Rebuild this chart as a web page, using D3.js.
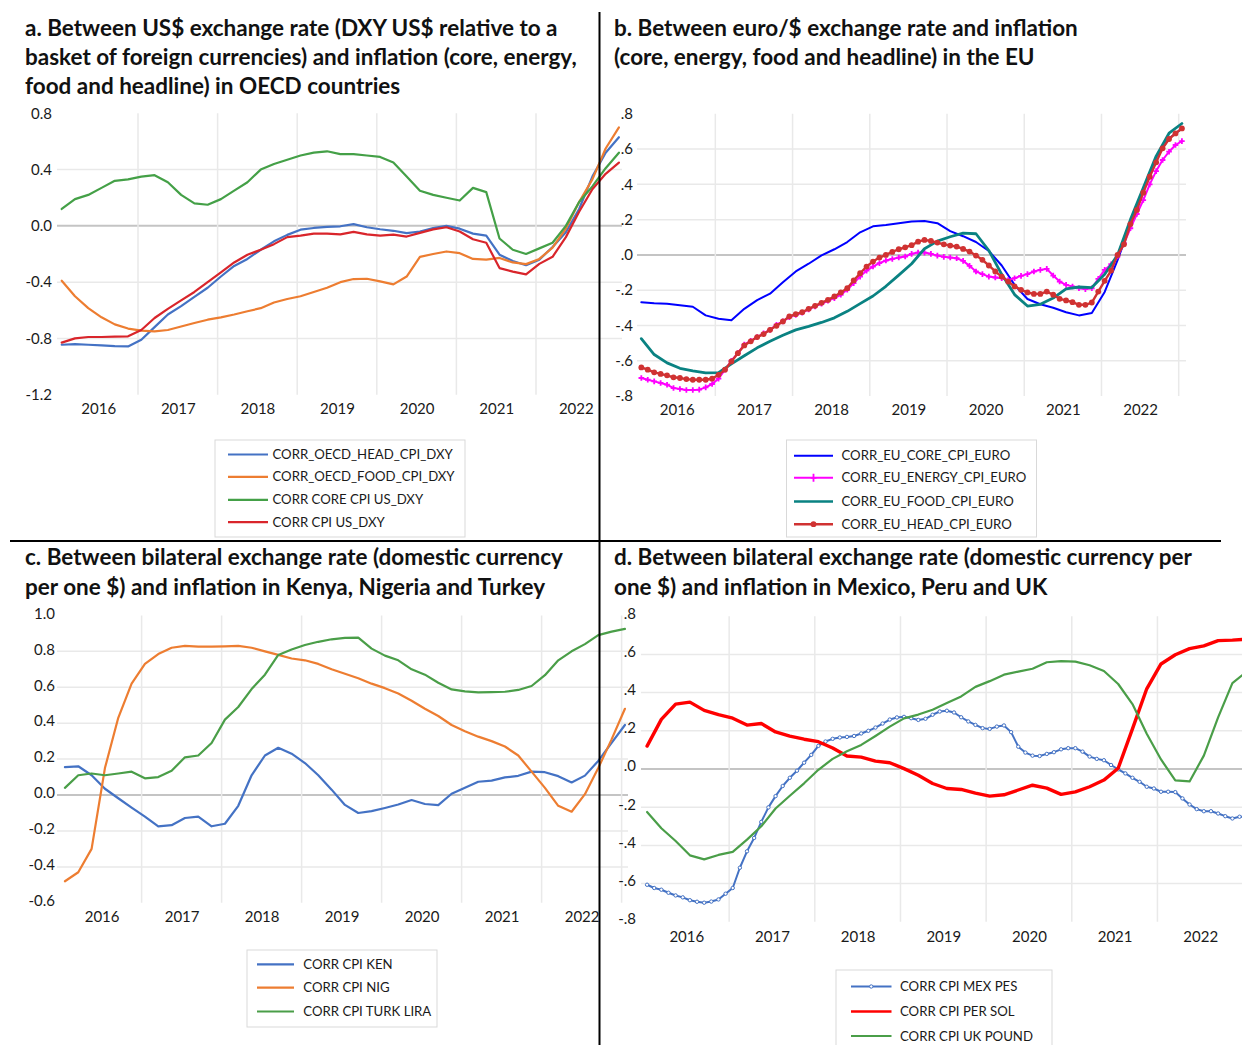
<!DOCTYPE html>
<html><head><meta charset="utf-8">
<script src="https://cdn.jsdelivr.net/npm/d3@7"></script>
<style>
body{margin:0;background:#fff;}
svg{display:block;font-family:Lato,"Open Sans",sans-serif;}
</style>
</head><body>
<svg id="chart" width="1242" height="1045"></svg>
<script>
// ---------------- DATA ----------------
const years = ["2016","2017","2018","2019","2020","2021","2022"];

// month index 0 = Jan 2016 ... 84 = Jan 2023
const monthsBi = d3.range(0, 85, 2);   // every second month
const monthsAll = d3.range(0, 85);     // every month

// Panel a
const aTitle = ["a. Between US$ exchange rate (DXY US$ relative to a",
  "basket of foreign currencies) and inflation (core, energy,",
  "food and headline) in OECD countries"];
const aTicks = [0.8, 0.4, 0.0, -0.4, -0.8, -1.2];
const aTickLabels = ["0.8","0.4","0.0","-0.4","-0.8","-1.2"];
const aNames = ["CORR_OECD_HEAD_CPI_DXY","CORR_OECD_FOOD_CPI_DXY","CORR CORE CPI US_DXY","CORR CPI US_DXY"];
const aHead = [-0.845,-0.84,-0.845,-0.85,-0.855,-0.857,-0.81,-0.72,-0.63,-0.57,-0.505,-0.44,-0.36,-0.285,-0.235,-0.17,-0.11,-0.064,-0.027,-0.015,-0.007,-0.003,0.012,-0.01,-0.024,-0.035,-0.052,-0.04,-0.015,0.0,-0.02,-0.055,-0.07,-0.205,-0.25,-0.28,-0.24,-0.15,-0.045,0.12,0.35,0.52,0.63];
const aFood = [-0.39,-0.50,-0.585,-0.65,-0.70,-0.73,-0.745,-0.75,-0.74,-0.715,-0.69,-0.667,-0.65,-0.63,-0.607,-0.585,-0.545,-0.52,-0.50,-0.47,-0.44,-0.40,-0.378,-0.376,-0.395,-0.416,-0.36,-0.22,-0.20,-0.182,-0.194,-0.235,-0.24,-0.228,-0.26,-0.272,-0.235,-0.155,-0.02,0.17,0.33,0.55,0.70];
const aCore = [0.12,0.19,0.22,0.27,0.32,0.33,0.35,0.36,0.31,0.22,0.16,0.15,0.19,0.25,0.31,0.40,0.44,0.47,0.50,0.52,0.53,0.51,0.51,0.50,0.49,0.45,0.35,0.25,0.22,0.20,0.18,0.27,0.24,-0.09,-0.17,-0.20,-0.16,-0.12,0.0,0.17,0.28,0.41,0.52];
const aCpi = [-0.83,-0.80,-0.79,-0.79,-0.787,-0.785,-0.74,-0.655,-0.59,-0.53,-0.47,-0.40,-0.33,-0.26,-0.205,-0.17,-0.13,-0.08,-0.07,-0.055,-0.055,-0.06,-0.043,-0.06,-0.07,-0.062,-0.076,-0.05,-0.025,-0.01,-0.04,-0.095,-0.12,-0.30,-0.325,-0.345,-0.27,-0.22,-0.08,0.10,0.26,0.37,0.45];

// Panel b
const bTitle = ["b. Between euro/$ exchange rate and inflation",
  "(core, energy, food and headline) in the EU"];
const bTicks = [0.8,0.6,0.4,0.2,0.0,-0.2,-0.4,-0.6,-0.8];
const bTickLabels = [".8",".6",".4",".2",".0","-.2","-.4","-.6","-.8"];
const bNames = ["CORR_EU_CORE_CPI_EURO","CORR_EU_ENERGY_CPI_EURO","CORR_EU_FOOD_CPI_EURO","CORR_EU_HEAD_CPI_EURO"];
const bCore = [-0.268,-0.274,-0.277,-0.285,-0.294,-0.343,-0.362,-0.37,-0.306,-0.256,-0.22,-0.155,-0.094,-0.05,-0.003,0.032,0.073,0.128,0.162,0.17,0.18,0.19,0.192,0.18,0.135,0.106,0.073,0.022,-0.06,-0.17,-0.25,-0.28,-0.30,-0.325,-0.343,-0.33,-0.21,-0.03,0.17,0.365,0.555,0.66,0.717];
const bEnergy = [-0.698,-0.708,-0.717,-0.726,-0.736,-0.755,-0.760,-0.766,-0.766,-0.764,
  -0.751,-0.732,-0.702,-0.651,-0.60,-0.557,-0.509,-0.487,-0.466,-0.445,
  -0.425,-0.396,-0.377,-0.353,-0.34,-0.328,-0.309,-0.292,-0.277,-0.26,
  -0.245,-0.226,-0.198,-0.16,-0.123,-0.089,-0.066,-0.047,-0.032,-0.023,
  -0.015,-0.009,0.006,0.013,0.013,0.006,-0.004,-0.011,-0.015,-0.019,
  -0.034,-0.062,-0.094,-0.109,-0.123,-0.128,-0.132,-0.142,-0.132,-0.119,
  -0.109,-0.094,-0.085,-0.079,-0.117,-0.151,-0.17,-0.179,-0.189,-0.194,
  -0.189,-0.136,-0.085,-0.053,-0.009,0.066,0.151,0.232,0.311,0.40,
  0.475,0.538,0.585,0.623,0.645];
const bFood = [-0.475,-0.565,-0.612,-0.643,-0.657,-0.669,-0.668,-0.618,-0.572,-0.527,-0.49,-0.456,-0.425,-0.405,-0.383,-0.357,-0.32,-0.276,-0.233,-0.178,-0.115,-0.05,0.035,0.078,0.103,0.123,0.12,0.025,-0.11,-0.225,-0.29,-0.28,-0.245,-0.193,-0.182,-0.185,-0.11,0.0,0.2,0.38,0.56,0.69,0.745];
const bHead = [-0.638,-0.651,-0.666,-0.675,-0.683,-0.694,-0.698,-0.704,-0.708,-0.708,
  -0.708,-0.702,-0.68,-0.651,-0.604,-0.557,-0.513,-0.49,-0.466,-0.449,
  -0.425,-0.402,-0.377,-0.349,-0.336,-0.325,-0.306,-0.289,-0.272,-0.255,
  -0.236,-0.213,-0.189,-0.145,-0.104,-0.066,-0.038,-0.015,0.0,0.017,
  0.032,0.043,0.055,0.075,0.085,0.079,0.07,0.06,0.053,0.047,
  0.034,0.019,-0.004,-0.028,-0.06,-0.094,-0.123,-0.151,-0.179,-0.198,
  -0.213,-0.221,-0.221,-0.208,-0.226,-0.249,-0.258,-0.268,-0.283,-0.283,
  -0.270,-0.208,-0.147,-0.089,0.0,0.06,0.175,0.255,0.353,0.443,
  0.525,0.604,0.657,0.689,0.717];

// Panel c
const cTitle = ["c. Between bilateral exchange rate (domestic currency",
  "per one $) and inflation in Kenya, Nigeria and Turkey"];
const cTicks = [1.0,0.8,0.6,0.4,0.2,0.0,-0.2,-0.4,-0.6];
const cTickLabels = ["1.0","0.8","0.6","0.4","0.2","0.0","-0.2","-0.4","-0.6"];
const cNames = ["CORR CPI KEN","CORR CPI NIG","CORR CPI TURK LIRA"];
const cKen = [0.155,0.16,0.11,0.035,-0.018,-0.07,-0.12,-0.174,-0.168,-0.128,-0.12,-0.174,-0.16,-0.06,0.11,0.22,0.263,0.23,0.178,0.11,0.03,-0.055,-0.10,-0.09,-0.072,-0.053,-0.028,-0.05,-0.056,0.007,0.04,0.074,0.08,0.098,0.107,0.13,0.127,0.105,0.07,0.108,0.19,0.29,0.39];
const cNig = [-0.48,-0.43,-0.30,0.15,0.43,0.62,0.73,0.785,0.82,0.83,0.826,0.826,0.828,0.83,0.82,0.80,0.78,0.76,0.75,0.73,0.70,0.675,0.65,0.62,0.595,0.565,0.525,0.48,0.44,0.39,0.355,0.325,0.30,0.27,0.22,0.13,0.04,-0.06,-0.093,0.005,0.15,0.31,0.48];
const cTurk = [0.04,0.11,0.12,0.11,0.12,0.13,0.093,0.10,0.135,0.21,0.22,0.29,0.42,0.49,0.59,0.67,0.78,0.81,0.835,0.853,0.867,0.875,0.876,0.815,0.776,0.75,0.70,0.67,0.625,0.588,0.577,0.571,0.573,0.575,0.585,0.607,0.667,0.75,0.80,0.84,0.89,0.91,0.925];

// Panel d
const dTitle = ["d. Between bilateral exchange rate (domestic currency per",
  "one $) and inflation in Mexico, Peru and UK"];
const dTicks = [0.8,0.6,0.4,0.2,0.0,-0.2,-0.4,-0.6,-0.8];
const dTickLabels = [".8",".6",".4",".2",".0","-.2","-.4","-.6","-.8"];
const dNames = ["CORR CPI MEX PES","CORR CPI PER SOL","CORR CPI UK POUND"];
const dMex = [-0.606,-0.623,-0.632,-0.648,-0.662,-0.672,-0.687,-0.695,-0.70,-0.694,
  -0.683,-0.653,-0.623,-0.517,-0.431,-0.361,-0.277,-0.201,-0.142,-0.089,
  -0.046,-0.009,0.033,0.074,0.121,0.144,0.158,0.165,0.168,0.173,
  0.186,0.20,0.217,0.238,0.259,0.27,0.273,0.266,0.257,0.263,
  0.284,0.301,0.305,0.296,0.271,0.249,0.231,0.214,0.21,0.222,
  0.228,0.193,0.117,0.086,0.07,0.068,0.079,0.088,0.103,0.109,
  0.109,0.091,0.065,0.053,0.046,0.021,-0.002,-0.023,-0.046,-0.067,
  -0.093,-0.102,-0.119,-0.119,-0.121,-0.154,-0.186,-0.21,-0.221,-0.221,
  -0.233,-0.247,-0.259,-0.25,-0.25];
const dPer = [0.12,0.26,0.34,0.35,0.307,0.285,0.266,0.23,0.238,0.194,0.172,0.156,0.143,0.11,0.068,0.062,0.041,0.033,0.002,-0.033,-0.076,-0.102,-0.107,-0.126,-0.142,-0.135,-0.11,-0.085,-0.10,-0.133,-0.12,-0.093,-0.058,0.004,0.21,0.42,0.55,0.598,0.63,0.645,0.672,0.675,0.68];
const dUk = [-0.225,-0.31,-0.377,-0.452,-0.473,-0.45,-0.434,-0.37,-0.3,-0.207,-0.14,-0.075,-0.004,0.053,0.093,0.126,0.173,0.222,0.265,0.285,0.31,0.345,0.38,0.43,0.46,0.494,0.51,0.525,0.559,0.565,0.562,0.543,0.513,0.445,0.34,0.185,0.05,-0.06,-0.065,0.07,0.27,0.45,0.51];

// ---------------- DRAWING ----------------
const svg = d3.select("#chart");
const monthT = i => 2016 + (i + 0.5) / 12;
const TXT = "#1a1a1a";

function drawPanel(p) {
  const g = svg.append("g");
  const x = d3.scaleLinear().domain([2016, 2023]).range(p.xRange);
  const y = d3.scaleLinear().domain([p.ticks[0], p.ticks[p.ticks.length-1]]).range(p.yRange);

  // horizontal gridlines (interior ticks)
  g.append("g").selectAll("line")
    .data(p.ticks.filter((d,i) => i > 0 && i < p.ticks.length-1))
    .join("line")
    .attr("x1", p.gridX[0]).attr("x2", p.gridX[1])
    .attr("y1", d => y(d)).attr("y2", d => y(d))
    .attr("stroke", d => d === 0 ? "#c4c4c4" : "#e9e9e9")
    .attr("stroke-width", d => d === 0 ? 2 : 1.5);

  // vertical gridlines at year boundaries
  g.append("g").selectAll("line")
    .data(p.vYears)
    .join("line")
    .attr("x1", d => x(d)).attr("x2", d => x(d))
    .attr("y1", y(p.ticks[0])).attr("y2", y(p.ticks[p.ticks.length-1]))
    .attr("stroke", "#e9e9e9").attr("stroke-width", 1.5);

  // y labels
  const ya = g.append("g").attr("transform", `translate(${p.labelX},${p.labelDy})`)
    .call(d3.axisLeft(y).tickValues(p.ticks).tickFormat((d,i) => p.tickLabels[i]).tickSize(0).tickPadding(0));
  ya.select(".domain").remove();
  ya.selectAll("text").attr("font-size", 15).attr("fill", TXT).style("font-family", "Lato, sans-serif");

  // year labels
  const xa = g.append("g").attr("transform", `translate(0,${p.yearY})`)
    .call(d3.axisBottom(x).tickValues(years.map(v => +v + 0.5)).tickFormat((d,i) => years[i]).tickSize(0).tickPadding(0));
  xa.select(".domain").remove();
  xa.selectAll("text").attr("font-size", 15).attr("fill", TXT).attr("dy", "0.35em").style("font-family", "Lato, sans-serif");

  // series
  const line = d3.line().x(d => x(monthT(d.m))).y(d => y(d.v));
  p.series.forEach(s => {
    const pts = s.values.map((v,i) => ({m: s.months[i], v}));
    g.append("path").datum(pts)
      .attr("fill", "none").attr("stroke", s.color).attr("stroke-width", s.width)
      .attr("stroke-linejoin", "round").attr("stroke-linecap", "round")
      .attr("d", line);
    if (s.marker === "dot") {
      g.append("g").selectAll("circle").data(pts).join("circle")
        .attr("cx", d => x(monthT(d.m))).attr("cy", d => y(d.v)).attr("r", 2.9)
        .attr("fill", s.color);
    } else if (s.marker === "plus") {
      g.append("g").selectAll("path").data(pts).join("path")
        .attr("d", d => { const cx = x(monthT(d.m)), cy = y(d.v);
          return `M${cx-2.8},${cy}h5.6M${cx},${cy-2.8}v5.6`; })
        .attr("stroke", s.color).attr("stroke-width", 1.8).attr("fill", "none");
    } else if (s.marker === "ring") {
      g.append("g").selectAll("circle").data(pts).join("circle")
        .attr("cx", d => x(monthT(d.m))).attr("cy", d => y(d.v)).attr("r", 1.7)
        .attr("fill", "#fff").attr("stroke", s.color).attr("stroke-width", 1);
    }
  });
  return g;
}

function drawLegend(l) {
  const g = svg.append("g");
  g.append("rect").attr("x", l.box[0]).attr("y", l.box[1]).attr("width", l.box[2]).attr("height", l.box[3])
    .attr("fill", "#fff").attr("stroke", "#d9d9d9").attr("stroke-width", 1);
  l.series.forEach((s, i) => {
    const yy = l.rows[i];
    g.append("line").attr("x1", l.lineX[0]).attr("x2", l.lineX[1]).attr("y1", yy).attr("y2", yy)
      .attr("stroke", s.color).attr("stroke-width", Math.min(s.width, 2.6));
    const cx = (l.lineX[0] + l.lineX[1]) / 2;
    if (s.marker === "dot") g.append("circle").attr("cx", cx).attr("cy", yy).attr("r", 2.9).attr("fill", s.color);
    if (s.marker === "plus") g.append("path").attr("d", `M${cx-3},${yy}h6M${cx},${yy-4}v8`).attr("stroke", s.color).attr("stroke-width", 1.8);
    if (s.marker === "ring") g.append("circle").attr("cx", cx).attr("cy", yy).attr("r", 1.7).attr("fill", "#fff").attr("stroke", s.color).attr("stroke-width", 1);
    g.append("text").attr("x", l.textX).attr("y", yy).attr("dy", "0.35em")
      .attr("font-size", l.fs).attr("fill", TXT).text(l.names[i]);
  });
}

// titles: fit font size to measured target width of first line
const titleSpecs = [
  {lines: aTitle, x: 25, ys: [28, 57, 86], target: 525},
  {lines: bTitle, x: 614, ys: [28, 57], target: 465},
  {lines: cTitle, x: 25, ys: [557, 587], target: 541},
  {lines: dTitle, x: 614, ys: [557, 587], target: 582}
];
const probe = svg.append("text").attr("font-size", 20).attr("font-weight", "bold").text("");
let ratios = titleSpecs.map(t => { probe.text(t.lines[0]); return t.target / probe.node().getComputedTextLength(); });
probe.remove();
const titleFs = 20 * d3.mean(ratios);

const colA = {blue: "#4472c4", orange: "#ed7d31", green: "#44a047", red: "#d9252b"};

const panels = [
  { xRange: [58.4, 615.6], yRange: [113.3, 394.7], gridX: [57, 622], vYears: [2017,2018,2019,2020,2021,2022],
    ticks: aTicks, tickLabels: aTickLabels, labelX: 52, labelDy: 0, yearY: 409,
    series: [
      {months: monthsBi, values: aHead, color: colA.blue, width: 2.2},
      {months: monthsBi, values: aFood, color: colA.orange, width: 2.2},
      {months: monthsBi, values: aCore, color: colA.green, width: 2.2},
      {months: monthsBi, values: aCpi, color: colA.red, width: 2.2}
    ], names: aNames,
    legend: {box: [215, 440, 250, 97], rows: [454.5, 476.8, 499.8, 522.2], lineX: [228, 268], textX: 272.5, fs: 13.2}
  },
  { xRange: [638.1, 1178.7], yRange: [113.8, 396], gridX: [637, 1186], vYears: [2017,2018,2019,2020,2021,2022,2023],
    ticks: bTicks, tickLabels: bTickLabels, labelX: 633, labelDy: 0, yearY: 410,
    series: [
      {months: monthsBi, values: bCore, color: "#0000ff", width: 2},
      {months: monthsAll, values: bEnergy, color: "#ff00ff", width: 2, marker: "plus"},
      {months: monthsBi, values: bFood, color: "#0a8282", width: 2.8},
      {months: monthsAll, values: bHead, color: "#d03232", width: 2.4, marker: "dot"}
    ], names: bNames,
    legend: {box: [786.5, 440, 250, 97], rows: [455.7, 477.8, 501.5, 524.2], lineX: [794, 833], textX: 841.5, fs: 13.2}
  },
  { xRange: [61.6, 621.6], yRange: [615.4, 902.8], gridX: [57, 628], vYears: [2017,2018,2019,2020,2021,2022,2023],
    ticks: cTicks, tickLabels: cTickLabels, labelX: 55, labelDy: -2, yearY: 917,
    series: [
      {months: monthsBi, values: cKen, color: colA.blue, width: 2.2},
      {months: monthsBi, values: cNig, color: colA.orange, width: 2.2},
      {months: monthsBi, values: cTurk, color: "#4a9e48", width: 2.2}
    ], names: cNames,
    legend: {box: [247, 950, 190, 77], rows: [964.3, 987.7, 1011.5], lineX: [257, 294], textX: 303.3, fs: 13.2}
  },
  { xRange: [643.5, 1243.1], yRange: [616.2, 921.8], gridX: [641, 1242], vYears: [2017,2018,2019,2020,2021,2022],
    ticks: dTicks, tickLabels: dTickLabels, labelX: 636, labelDy: -3, yearY: 937,
    series: [
      {months: monthsAll, values: dMex, color: "#4472c4", width: 2, marker: "ring"},
      {months: monthsBi, values: dPer, color: "#ff0000", width: 3.4},
      {months: monthsBi, values: dUk, color: "#4a9e48", width: 2.2}
    ], names: dNames,
    legend: {box: [836, 970, 216, 82], rows: [986.5, 1011.5, 1036], lineX: [851, 891.5], textX: 900, fs: 13.2}
  }
];

panels.forEach(p => drawPanel(p));
panels.forEach(p => drawLegend(Object.assign({series: p.series, names: p.names}, p.legend)));

titleSpecs.forEach(t => {
  t.lines.forEach((ln, i) => {
    svg.append("text").attr("x", t.x).attr("y", t.ys[i]).attr("dy", "0.35em")
      .attr("font-size", titleFs).attr("font-weight", "bold").attr("fill", "#111").text(ln);
  });
});

// panel dividers
svg.append("line").attr("x1", 599.5).attr("x2", 599.5).attr("y1", 12).attr("y2", 1045)
  .attr("stroke", "#000").attr("stroke-width", 2);
svg.append("line").attr("x1", 10).attr("x2", 1221).attr("y1", 541).attr("y2", 541)
  .attr("stroke", "#000").attr("stroke-width", 2);
</script>
</body></html>
